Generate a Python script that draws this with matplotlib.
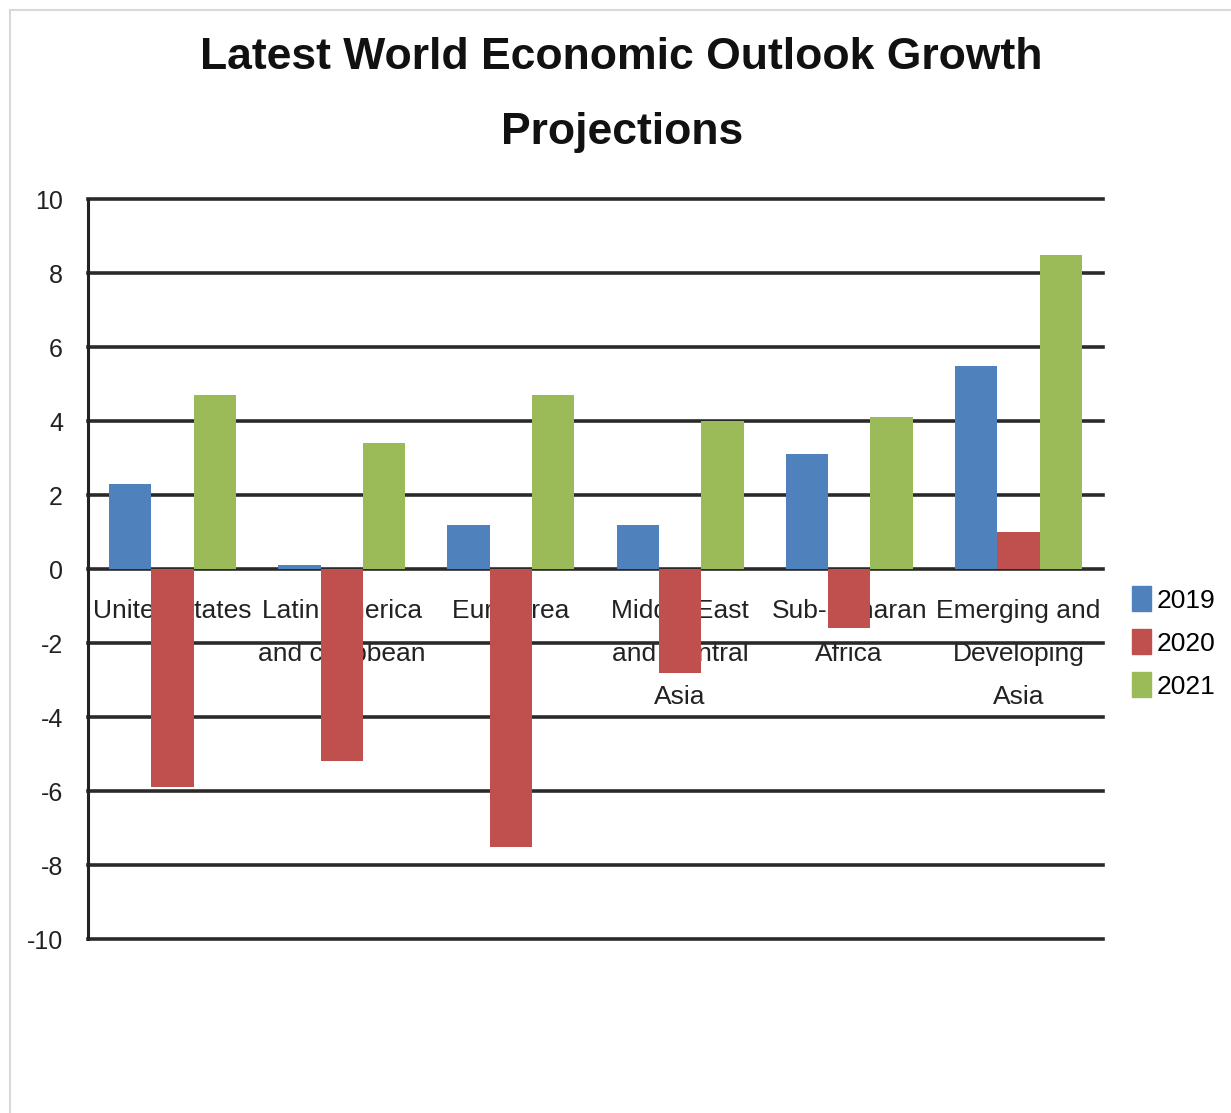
import matplotlib.pyplot as plt
import numpy as np
from matplotlib.lines import Line2D

# data
regions = ['United States', 'Latin America\nand caribbean', 'Euro Area',
           'Middle East\nand Central\nAsia', 'Sub-Saharan\nAfrica',
           'Emerging and\nDeveloping\nAsia']
years = ['2019', '2020', '2021']
growth_2019 = [2.3, 0.1, 1.2, 1.2, 3.1, 5.5]
growth_2020 = [-5.9, -5.2, -7.5, -2.8, -1.6, 1.0]
growth_2021 = [4.7, 3.4, 4.7, 4.0, 4.1, 8.5]
yticks = [10, 8, 6, 4, 2, 0, -2, -4, -6, -8, -10]

colors = ['#4F81BD', '#C0504D', '#9BBB59']
font = ['Liberation Sans Narrow', 'Liberation Sans', 'DejaVu Sans']

fig = plt.figure(figsize=(12.31, 11.13), dpi=100)
ax = fig.add_axes([0.0715, 0.1563, 0.8245, 0.6649])

x = np.arange(len(regions))
w = 0.25
for i, (vals, c, lab) in enumerate(zip([growth_2019, growth_2020, growth_2021], colors, years)):
    ax.bar(x + (i - 1) * w, vals, width=w, color=c, label=lab, zorder=3)

ax.set_xlim(-0.5, len(regions) - 0.5)
ax.set_ylim(-10, 10)
ax.set_yticks(yticks)
ax.set_yticklabels([str(t) for t in yticks], family=font, fontsize=18, color='#222222')
ax.tick_params(axis='y', length=0, pad=18)
ax.set_xticks([])

for t in yticks:
    ax.axhline(t, color='#2a2a2a', lw=2.6, zorder=2, clip_on=False)

for s in ['top', 'right', 'bottom']:
    ax.spines[s].set_visible(False)
ax.spines['left'].set_linewidth(2.2)
ax.spines['left'].set_color('#222222')

# category labels sit just under the zero line, behind the bars
for xi, name in zip(x, regions):
    ax.text(xi, -0.82, name, ha='center', va='top', family=font, fontsize=19,
            color='#222222', linespacing=1.98, zorder=1)

handles = [plt.Rectangle((0, 0), 1, 1, color=c) for c in colors]
leg = fig.legend(handles, years, loc='center left', bbox_to_anchor=(0.9, 0.423),
                 frameon=False, prop={'family': font, 'size': 19},
                 handlelength=0.75, handleheight=1.1, handletextpad=0.2,
                 labelspacing=0.62)

fig.text(0.505, 0.948, 'Latest World Economic Outlook Growth', ha='center', va='center',
         family=font, fontsize=32, weight='bold', color='#111111')
fig.text(0.505, 0.881, 'Projections', ha='center', va='center',
         family=font, fontsize=32, weight='bold', color='#111111')

# faint outer frame of the pasted chart
fig.add_artist(Line2D([10 / 1231, 1], [1 - 10 / 1113, 1 - 10 / 1113], color='#d8d8d8', lw=1.5))
fig.add_artist(Line2D([10 / 1231, 10 / 1231], [0, 1 - 10 / 1113], color='#d8d8d8', lw=1.5))

fig.savefig('out.png', dpi=100)
